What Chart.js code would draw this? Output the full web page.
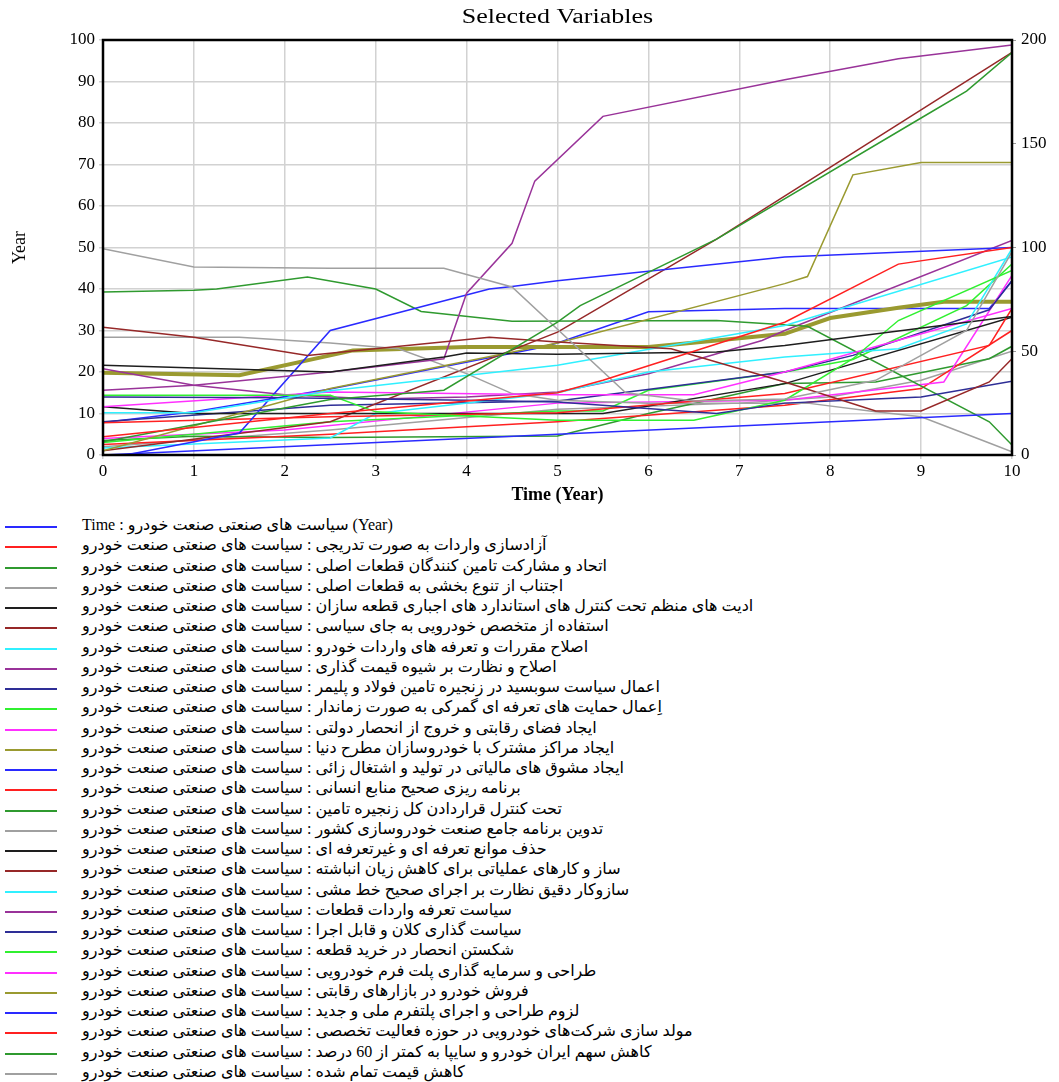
<!DOCTYPE html>
<html>
<head>
<meta charset="utf-8">
<script src="https://cdn.jsdelivr.net/npm/chart.js@4"></script>
<style>
  body { margin: 0; background: #fff; }
  #wrap { position: relative; width: 1059px; height: 1082px; }
  #chart { position: absolute; left: 0; top: 0; }
  .row { position: absolute; left: 0; width: 1059px; height: 20px; }
  .sw { position: absolute; left: 5px; top: 9px; width: 52px; height: 2px; }
  .tx { position: absolute; left: 82px; top: -2px; line-height: 20px; white-space: nowrap;
        font: 16px "Liberation Serif", "DejaVu Sans"; color: #000; direction: ltr; }
</style>
</head>
<body>
<div id="wrap">
  <canvas id="chart" width="1059" height="510"></canvas>
  <div id="legend"></div>
</div>
<script>
// ---- data (time in years) ----
const xTicks = [0, 1, 2, 3, 4, 5, 6, 7, 8, 9, 10];
const leftTicks = [0, 10, 20, 30, 40, 50, 60, 70, 80, 90, 100];
const rightTicks = [0, 50, 100, 150, 200];

const suffix = ' : سیاست های صنعتی صنعت خودرو';
const names = [
  'Time : سیاست های صنعتی صنعت خودرو (Year)',
  'آزادسازی واردات به صورت تدریجی' + suffix,
  'اتحاد و مشارکت تامین کنندگان قطعات اصلی' + suffix,
  'اجتناب از تنوع بخشی به قطعات اصلی' + suffix,
  'ادیت های منظم تحت کنترل های استاندارد های اجباری قطعه سازان' + suffix,
  'استفاده از متخصص خودرویی به جای سیاسی' + suffix,
  'اصلاح مقررات و تعرفه های واردات خودرو' + suffix,
  'اصلاح و نظارت بر شیوه قیمت گذاری' + suffix,
  'اعمال سیاست سوبسید در زنجیره تامین فولاد و پلیمر' + suffix,
  'اِعمال حمایت های تعرفه ای گمرکی به صورت زماندار' + suffix,
  'ایجاد فضای رقابتی و خروج از انحصار دولتی' + suffix,
  'ایجاد مراکز مشترک با خودروسازان مطرح دنیا' + suffix,
  'ایجاد مشوق های مالیاتی در تولید و اشتغال زائی' + suffix,
  'برنامه ریزی صحیح منابع انسانی' + suffix,
  'تحت کنترل قراردادن کل زنجیره تامین' + suffix,
  'تدوین برنامه جامع صنعت خودروسازی کشور' + suffix,
  'حذف موانع تعرفه ای و غیرتعرفه ای' + suffix,
  'ساز و کارهای عملیاتی برای کاهش زیان انباشته' + suffix,
  'سازوکار دقیق نظارت بر اجرای صحیح خط مشی' + suffix,
  'سیاست تعرفه واردات قطعات' + suffix,
  'سیاست گذاری کلان و قابل اجرا' + suffix,
  'شکستن انحصار در خرید قطعه' + suffix,
  'طراحی و سرمایه گذاری پلت فرم خودرویی' + suffix,
  'فروش خودرو در بازارهای رقابتی' + suffix,
  'لزوم طراحی و اجرای پلتفرم ملی و جدید' + suffix,
  'مولد سازی شرکت‌های خودرویی در حوزه فعالیت تخصصی' + suffix,
  'کاهش سهم ایران خودرو و سایپا به کمتر از 60 درصد' + suffix,
  'کاهش قیمت تمام شده' + suffix
];

// [time, value] knots for each variable
const s01 = [[0,0],[10,10]];
const s02 = [[0,4.4],[2.5,10],[5,15],[5.5,18],[7.5,32],[8.75,46],[10,50]];
const s03 = [[0,3.2],[2.5,13.4],[3.75,15.6],[5,32],[5.25,36],[6.75,52],[9,81.2],[9.5,87.7],[10,97]];
const s04 = [[0,49.7],[1,45.3],[2.5,45],[3.75,45],[4.5,40.5],[5.75,15],[6.5,13],[7.5,13.5],[8.5,18],[9.5,30],[10,49]];
const s05 = [[0,21.6],[2.5,20],[3.75,23.6],[4,24.6],[5,24.3],[6.75,24.8],[7.5,26.4],[10,33.4]];
const s06 = [[0,30.8],[1,28.4],[2.25,24],[4.25,28.4],[5,27.2],[6.25,25.6],[7.5,17.6],[8.5,10.6],[9,10.6],[9.75,17.6],[10,23.2]];
const s07 = [[0,10.2],[1,10.2],[2.5,15.5],[5,21.6],[7.5,31.2],[10,47.7]];
const s08 = [[0,15.6],[1,16.8],[2.5,20],[3.75,23.2],[4,39],[4.5,51],[4.75,66],[5.5,81.6],[7.5,90.4],[8.75,95.5],[10,98.8]];
const s09 = [[0,14],[2,13.8],[4,13.2],[5,12.8],[6.75,10],[7.5,12.5],[8.5,13.5],[9,14],[10,17.8]];
const s10 = [[0,14.4],[2.5,14.4],[3,10.4],[5,8.4],[6.5,8.4],[7.5,13.2],[8.25,23.2],[8.75,32.4],[10,44.5]];
const s11 = [[0,11.6],[2.5,15.2],[5,14.5],[6.5,14.5],[7.5,20],[10,35.3]];
const s12 = [[0,1],[2.5,16],[5,27],[7.5,41.3],[7.75,43],[8.25,67.5],[9,70.5],[10,70.5]];
const s13 = [[0,0],[0.25,0],[1.5,5.3],[2.5,30],[4.25,40],[4.5,40.6],[5,42],[7.5,47.7],[10,50]];
const s14 = [[0,7.8],[2.5,9.2],[5,10.2],[7.5,14.8],[9.75,26.4],[10,35.3]];
const s15 = [[0,39.3],[1,39.7],[1.25,40],[2.25,42.9],[3,40],[3.5,34.6],[4.5,32.2],[6.75,32.4],[7.75,31],[9.75,8],[10,2.4]];
const s16 = [[0,28.4],[1.5,28.4],[2.5,27],[3.25,25.6],[4,19.6],[4.5,14.8],[5,13.2],[6,12.5],[7.75,12.5],[8.5,10.4],[9,9.2],[9.75,2.9],[10,0.8]];
const s17 = [[0,11.6],[1,10],[5.5,10],[7.5,17.2],[10,33.2]];
const s18 = [[0,1],[2.5,8],[5,29.6],[6.75,52],[10,97]];
const s19 = [[0,1.7],[2.5,4.1],[3,10],[5,15],[6,20],[7.5,23.6],[8.75,25.6],[9.5,31.6],[10,49.7]];
const s20 = [[0,20.8],[1,16.8],[2,14.5],[3,13.5],[4,14],[5,15.2],[6,19.6],[7.25,27.6],[7.5,30],[10,51.7]];
const s21 = [[0,8],[2.5,12],[5,13],[7.5,20],[8.25,24],[9.75,35],[10,42]];
const s22 = [[0,3],[2.5,8],[5,10.6],[5.5,10.6],[6,15.6],[7.5,20],[8.25,23],[9.5,36],[10,46]];
const s23 = [[0,4],[2,6],[5,12.5],[7.5,13.2],[9.25,17.6],[10,43.3]];
const s24 = [[0,19.8],[1.5,19.2],[2.75,25.2],[4,26],[6,26],[6.75,27.6],[7.5,29.2],[8,33],[8.75,35.5],[9.25,36.9],[10,36.9]];
const s25 = [[0,7.8],[1,10.4],[2.5,15.9],[4.75,25.6],[5,27],[6,34.5],[7.5,35.3],[9.75,35.3],[10,42]];
const s26 = [[0,2.5],[2.5,5],[5,8],[7.5,12],[9,16],[10,30]];
const s27 = [[0,3.5],[1,4.5],[2.5,4.2],[5,4.6],[6,10],[7.5,17.2],[8.5,17.6],[9.75,23.2],[10,26.2]];
const s28 = [[0,2],[2.5,6],[5,11],[7,12.5],[8,14],[9,18],[10,25]];

const series = [s01,s02,s03,s04,s05,s06,s07,s08,s09,s10,s11,s12,s13,s14,
                s15,s16,s17,s18,s19,s20,s21,s22,s23,s24,s25,s26,s27,s28];

// Vensim colour cycle
const palette = ['#2a2aff', '#ff2020', '#2f9a2f', '#a0a0a0', '#1e1e1e', '#962828',
                 '#30f0ff', '#993399', '#2e2e96', '#30f030', '#ff30ff', '#9a9a30'];

const datasets = series.map((pts, i) => ({
  label: names[i],
  data: pts.map(p => ({ x: p[0], y: p[1] })),
  borderColor: palette[i % 12],
  borderWidth: i === 23 ? 4 : 1.5,
  pointRadius: 0,
  tension: 0,
  fill: false,
  yAxisID: 'y'
}));

// frame + title drawn over the plot box
const frame = {
  id: 'frame',
  afterDraw(chart) {
    const { ctx, chartArea: a } = chart;
    ctx.save();
    ctx.strokeStyle = '#000';
    ctx.lineWidth = 2.5;
    ctx.strokeRect(a.left, a.top, a.right - a.left, a.bottom - a.top);
    // title is a bit wide in the original, stretch it
    ctx.translate((a.left + a.right) / 2, 18);
    ctx.scale(1.3, 1);
    ctx.fillStyle = '#000';
    ctx.font = '20px "Liberation Serif"';
    ctx.textAlign = 'center';
    ctx.textBaseline = 'middle';
    ctx.fillText('Selected Variables', 0, 0);
    ctx.restore();
  }
};

const tickFont = { family: 'Liberation Serif', size: 17 };

new Chart(document.getElementById('chart'), {
  type: 'line',
  data: { datasets },
  plugins: [frame],
  options: {
    responsive: false,
    animation: false,
    layout: { padding: { top: 40, bottom: 0, left: 0, right: 0 } },
    plugins: { legend: { display: false }, title: { display: false }, tooltip: { enabled: false } },
    scales: {
      x: {
        type: 'linear', min: 0, max: 10,
        afterBuildTicks: s => { s.ticks = xTicks.map(v => ({ value: v })); },
        ticks: { font: tickFont, color: '#000', padding: 2, maxRotation: 0 },
        grid: { color: '#d2d2d2', lineWidth: 1.5, tickLength: 4 },
        border: { color: '#000', width: 2 },
        title: { display: true, text: 'Time (Year)', color: '#000',
                 font: { family: 'Liberation Serif', size: 18, weight: 'bold' },
                 padding: { top: 4, bottom: 4 } },
        afterFit: s => { s.height = 55; }
      },
      y: {
        position: 'left', min: 0, max: 100,
        afterBuildTicks: s => { s.ticks = leftTicks.map(v => ({ value: v })); },
        ticks: { font: tickFont, color: '#000', padding: 4 },
        grid: { color: '#d2d2d2', lineWidth: 1.5, tickLength: 4 },
        border: { color: '#000', width: 2 },
        title: { display: true, text: 'Year', color: '#000',
                 font: { family: 'Liberation Serif', size: 18 }, padding: { top: 9, bottom: 0 } },
        afterFit: s => { s.width = 103; }
      },
      y1: {
        position: 'right', min: 0, max: 200,
        afterBuildTicks: s => { s.ticks = rightTicks.map(v => ({ value: v })); },
        ticks: { font: tickFont, color: '#000', padding: 5 },
        grid: { drawOnChartArea: false, color: '#999', tickLength: 4 },
        border: { color: '#000', width: 2 },
        afterFit: s => { s.width = 47; }
      }
    }
  }
});

// legend list below the chart
const legend = document.getElementById('legend');
names.forEach((n, i) => {
  const row = document.createElement('div');
  row.className = 'row';
  row.style.top = (517 + i * 20.25) + 'px';
  const sw = document.createElement('div');
  sw.className = 'sw';
  sw.style.background = palette[i % 12];
  const tx = document.createElement('div');
  tx.className = 'tx';
  tx.textContent = n;
  row.appendChild(sw);
  row.appendChild(tx);
  legend.appendChild(row);
});
</script>
</body>
</html>
